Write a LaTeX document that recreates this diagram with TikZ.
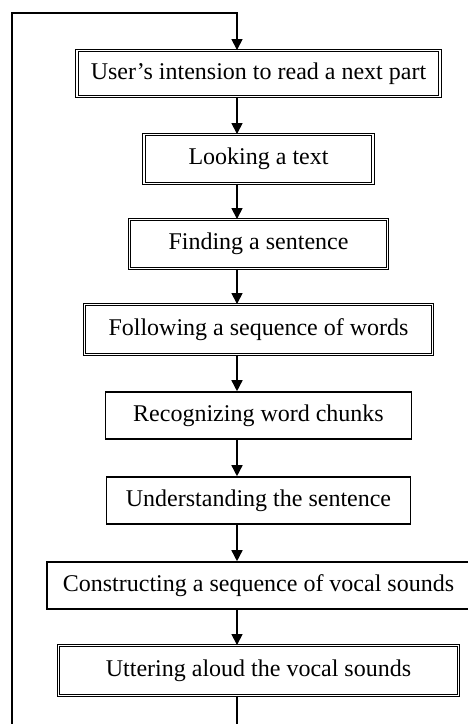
\documentclass[tikz,border=0pt]{standalone}
\usepackage{fontspec}
\setmainfont{Liberation Serif}
\usetikzlibrary{arrows.meta}

\tikzset{
  stepbox/.style={draw, line width=1.6pt, inner sep=0pt, font=\fontsize{24}{28}\selectfont},
  dblbox/.style={stepbox, line width=0.9pt, double, double distance=1.5pt},
  flow/.style={line width=1.5pt, -{Triangle[length=11pt,width=11pt]}},
  loopline/.style={line width=1.5pt}
}

\begin{document}
\begin{tikzpicture}[x=1pt, y=-1pt]
  \useasboundingbox (0,0) rectangle (468,724);

  % process steps
  \node[dblbox, minimum width=363pt, minimum height=46pt] (b1) at (258.5,73.5) {User’s intension to read a next part};
  \node[dblbox, minimum width=229pt, minimum height=49pt] (b2) at (258.5,159) {Looking a text};
  \node[dblbox, minimum width=258pt, minimum height=49pt] (b3) at (258.5,244) {Finding a sentence};
  \node[dblbox, minimum width=348pt, minimum height=50pt] (b4) at (258.5,329.5) {Following a sequence of words};
  \node[stepbox, minimum width=306pt, minimum height=47pt] (b5) at (258.5,415.5) {Recognizing word chunks};
  \node[stepbox, minimum width=304pt, minimum height=47pt] (b6) at (258.5,500.5) {Understanding the sentence};
  \node[stepbox, minimum width=423pt, minimum height=47pt] (b7) at (258.5,585.5) {Constructing a sequence of vocal sounds};
  \node[dblbox, minimum width=400pt, minimum height=50pt] (b8) at (258.5,670.5) {Uttering aloud the vocal sounds};

  % return loop
  \coordinate (col) at (237,13);
  \coordinate (tl) at (12,13);
  \coordinate (bl) at (12,724);
  \coordinate (bc) at (237,724);

  \draw[flow] (bl) -- (tl) -- (col) -- (b1.north -| col);
  \foreach \a/\b in {b1/b2,b2/b3,b3/b4,b4/b5,b5/b6,b6/b7,b7/b8} {
    \draw[flow] (\a.south -| col) -- (\b.north -| col);
  }
  \draw[loopline] (b8.south -| col) -- (bc);
\end{tikzpicture}
\end{document}
